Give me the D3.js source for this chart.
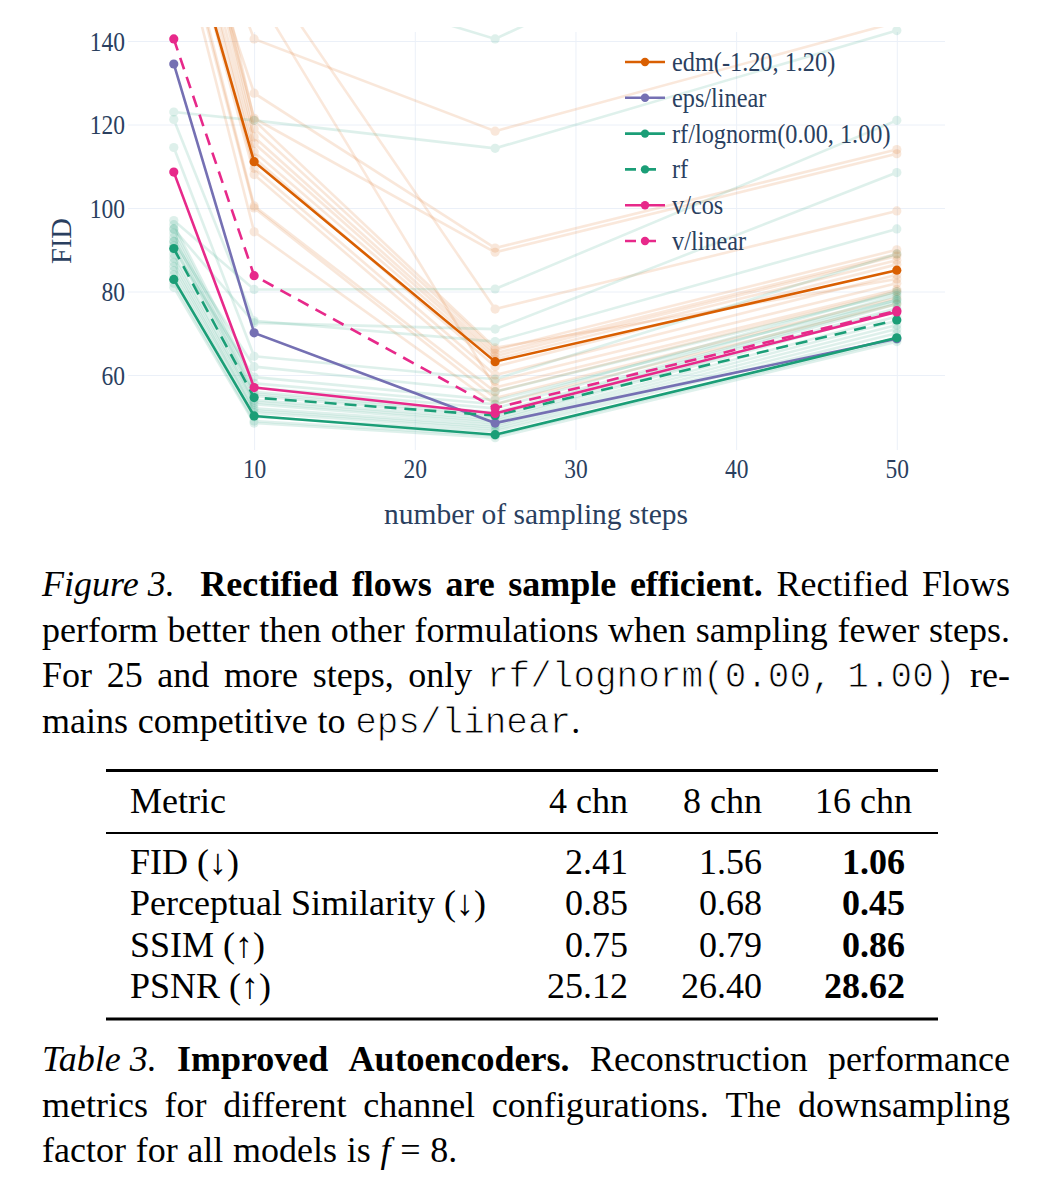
<!DOCTYPE html>
<html>
<head>
<meta charset="utf-8">
<script src="https://cdn.jsdelivr.net/npm/d3@7/dist/d3.min.js"></script>
<style>
  body { margin: 0; background: #fff; }
  svg { display: block; }
</style>
</head>
<body>
<script>
// ---- data ----
var steps = [5, 10, 25, 50];

var edmMain    = [178, 111.1, 63.2, 85.1];
var epsLinear  = [134.5, 70.1, 48.5, 68.7];
var rfLognorm  = [82.9, 50.2, 45.7, 68.9];
var rfPlain    = [90.3, 54.6, 50.3, 73.2];
var vCos       = [108.6, 57.0, 50.8, 75.1];
var vLinear    = [140.5, 83.8, 52.1, 75.4];

// faded runs (other edm settings)
var edmFaded = [
  [190, 140.5, 118.4, 144.5],
  [185, 127.5, 90.4, 114],
  [195, 121.5, 89.4, 113],
  [240, 160, 75.8, 99.3],
  [230, 152, 57, 80.5],
  [200, 119, 66, 90],
  [198, 117, 65.2, 89],
  [192, 115.5, 64.5, 88.5],
  [188, 113.5, 63.8, 87.5],
  [186, 112, 62, 86.5],
  [183, 109.5, 60, 84],
  [180, 108, 58.5, 82],
  [176, 100.5, 56, 80],
  [174, 100, 54.5, 78.5],
  [170, 94.3, 53, 77],
  [205, 121, 66.5, 83]
];

// faded runs (other rf settings)
var rfFaded = [
  [123, 121, 114.3, 142.5],
  [175, 158, 140.5, 185],
  [97, 80.5, 80.6, 121],
  [95, 72.5, 71, 108.5],
  [121.2, 73, 68, 95],
  [114.5, 64.5, 59, 89],
  [96, 58, 53, 80],
  [95, 57, 52, 79],
  [94, 56, 51, 78],
  [93, 55.5, 50.5, 77.5],
  [92, 55, 50, 77],
  [91, 54, 49.5, 76],
  [89, 53.5, 49, 75.5],
  [88, 53, 48.5, 74],
  [87, 52, 48, 73],
  [86, 51.5, 47.5, 72],
  [85, 51, 47, 71],
  [84, 50, 46.5, 70],
  [82, 49, 45.5, 68.5],
  [81, 48.5, 45, 68],
  [90, 59.5, 54, 78],
  [92, 62, 56, 79.5]
];

var xTicks = [10, 20, 30, 40, 50];
var yTicks = [60, 80, 100, 120, 140];

var seriesNames = ["edm(-1.20, 1.20)", "eps/linear", "rf/lognorm(0.00, 1.00)", "rf", "v/cos", "v/linear"];
var seriesValues = [edmMain, epsLinear, rfLognorm, rfPlain, vCos, vLinear];
var seriesColors = ["#d95f02", "#7570b3", "#1b9e77", "#1b9e77", "#e7298a", "#e7298a"];
var seriesDashed = [false, false, false, true, false, true];

var tableHeader = ["Metric", "4 chn", "8 chn", "16 chn"];
var tableMetrics = ["FID (\u2193)", "Perceptual Similarity (\u2193)", "SSIM (\u2191)", "PSNR (\u2191)"];
var chn4 = ["2.41", "0.85", "0.75", "25.12"];
var chn8 = ["1.56", "0.68", "0.79", "26.40"];
var chn16 = ["1.06", "0.45", "0.86", "28.62"];

var figCaption = [
  [["i", "Figure\u00a03. "], ["b", "Rectified flows are sample efficient. "], ["r", "Rectified Flows"]],
  [["r", "perform better then other formulations when sampling fewer steps."]],
  [["r", "For 25 and more steps, only "], ["m", "rf/lognorm(0.00, 1.00) "], ["r", "re-"]],
  [["r", "mains competitive to "], ["m", "eps/linear"], ["r", "."]]
];
var tabCaption = [
  [["i", "Table\u00a03. "], ["b", "Improved Autoencoders. "], ["r", "Reconstruction performance"]],
  [["r", "metrics for different channel configurations. The downsampling"]],
  [["r", "factor for all models is "], ["i", "f"], ["r", " = 8."]]
];

// ---- drawing ----
var WIDTH = 1047, HEIGHT = 1195;
var SERIF = "'Liberation Serif', 'Times New Roman', serif";
var MONO = "'Liberation Mono', 'Courier New', monospace";
var INK = "#2a3f5f";
var STRETCH = 1.15;   // chart text in the picture is a bit taller than wide

var svg = d3.select("body").append("svg")
  .attr("width", WIDTH)
  .attr("height", HEIGHT);

svg.append("rect").attr("width", WIDTH).attr("height", HEIGHT).attr("fill", "#fff");

var pL = 128, pR = 945, pT = 32, pB = 450;

var x = d3.scaleLinear().domain([2.15, 53.0]).range([pL, pR]);
var y = d3.scaleLinear().domain([42.04, 142.16]).range([pB, pT]);

// grid + tick labels
var gx = svg.append("g")
  .attr("transform", "translate(0," + pB + ")")
  .call(d3.axisBottom(x).tickValues(xTicks).tickSize(-(pB - pT)));
var gy = svg.append("g")
  .attr("transform", "translate(" + pL + ",0)")
  .call(d3.axisLeft(y).tickValues(yTicks).tickSize(-(pR - pL)));

[gx, gy].forEach(function(g) {
  g.select(".domain").remove();
  g.selectAll(".tick line").attr("stroke", "#ebf0f8").attr("stroke-width", 1);
  g.selectAll(".tick text")
    .attr("fill", INK)
    .attr("x", 0).attr("y", 0).attr("dy", null)
    .style("font-family", SERIF)
    .style("font-size", "23.5px");
});
gx.selectAll(".tick text").attr("transform", "translate(0,28) scale(1," + STRETCH + ")");
gy.selectAll(".tick text").attr("transform", "translate(-3,9) scale(1," + STRETCH + ")");

svg.append("clipPath").attr("id", "plotclip")
  .append("rect").attr("x", pL).attr("y", pT - 5)
  .attr("width", pR - pL).attr("height", pB - pT + 5);

var line = d3.line()
  .x(function(d, i) { return x(steps[i]); })
  .y(function(d) { return y(d); });

var plot = svg.append("g").attr("clip-path", "url(#plotclip)");

function drawRun(g, vals, color, dashed, opacity) {
  var t = g.append("g").attr("opacity", opacity);
  t.append("path")
    .attr("d", line(vals))
    .attr("fill", "none")
    .attr("stroke", color)
    .attr("stroke-width", 2.6)
    .attr("stroke-dasharray", dashed ? "12,8" : null);
  t.selectAll("circle")
    .data(vals)
    .enter()
    .append("circle")
    .attr("cx", function(d, i) { return x(steps[i]); })
    .attr("cy", function(d) { return y(d); })
    .attr("r", 4.6)
    .attr("fill", color);
}

edmFaded.forEach(function(v) { drawRun(plot, v, "#d95f02", false, 0.14); });
rfFaded.forEach(function(v) { drawRun(plot, v, "#1b9e77", false, 0.14); });

for (var i = 0; i < seriesValues.length; i++) {
  drawRun(plot, seriesValues[i], seriesColors[i], seriesDashed[i], 1);
}

// legend
var legend = svg.append("g");
for (var j = 0; j < seriesNames.length; j++) {
  var ly = 62 + j * 35.8;
  var row = legend.append("g");
  row.append("line")
    .attr("x1", 625).attr("x2", seriesDashed[j] ? 661 : 665)
    .attr("y1", ly).attr("y2", ly)
    .attr("stroke", seriesColors[j]).attr("stroke-width", 2.6)
    .attr("stroke-dasharray", seriesDashed[j] ? "11,9" : null);
  row.append("circle").attr("cx", 645).attr("cy", ly).attr("r", 4.2).attr("fill", seriesColors[j]);
  row.append("text")
    .attr("transform", "translate(672," + (ly + 9) + ") scale(1," + STRETCH + ")")
    .attr("fill", INK)
    .style("font-family", SERIF).style("font-size", "24.3px")
    .text(seriesNames[j]);
}

// axis titles
svg.append("text")
  .attr("x", 536).attr("y", 524)
  .attr("text-anchor", "middle")
  .attr("fill", INK)
  .style("font-family", SERIF).style("font-size", "29.5px")
  .text("number of sampling steps");

svg.append("text")
  .attr("transform", "translate(71,241) rotate(-90)")
  .attr("text-anchor", "middle")
  .attr("fill", INK)
  .style("font-family", SERIF).style("font-size", "28.5px")
  .text("FID");

// ---- captions: justified text lines ----
var FS = 36;

function styleSpan(sp, st) {
  sp.style("font-family", st === "m" ? MONO : SERIF)
    .style("font-style", st === "i" ? "italic" : "normal")
    .style("font-weight", st === "b" ? "bold" : "normal");
  if (st === "m") {
    // typewriter face in the paper is much lighter; thin the glyphs a little
    sp.attr("stroke", "#fff").attr("stroke-width", 0.9);
  }
}

function toWords(segs) {
  var words = [[]];
  segs.forEach(function(s) {
    s[1].split(/( )/).forEach(function(part) {
      if (part === " ") { if (words[words.length - 1].length) words.push([]); }
      else if (part.length) words[words.length - 1].push([s[0], part]);
    });
  });
  if (!words[words.length - 1].length) words.pop();
  return words;
}

function drawParagraph(lines, x0, y0, lineH, width, firstPad) {
  var g = svg.append("g");
  lines.forEach(function(segs, li) {
    var words = toWords(segs);
    var base = y0 + li * lineH;
    var nodes = words.map(function(w) {
      var t = g.append("text").attr("y", base).attr("fill", "#000")
        .style("font-size", FS + "px");
      w.forEach(function(p) { styleSpan(t.append("tspan").text(p[1]), p[0]); });
      return t;
    });
    var widths = nodes.map(function(n) { return n.node().getComputedTextLength(); });
    var pads = words.map(function(w, k) { return (li === 0 && k === 1) ? firstPad : 0; });
    var total = d3.sum(widths) + d3.sum(pads);
    var justify = li < lines.length - 1;
    var gap = justify ? (width - total) / (words.length - 1) : FS * 0.27;
    var cx = x0;
    nodes.forEach(function(n, k) {
      cx += pads[k];
      n.attr("x", cx);
      cx += widths[k] + gap;
    });
  });
}

drawParagraph(figCaption, 42, 596, 45.5, 968, 12);
drawParagraph(tabCaption, 42, 1071, 45.5, 968, 0);

// ---- table ----
var tab = svg.append("g");
tab.append("line").attr("x1", 106).attr("x2", 938).attr("y1", 770.5).attr("y2", 770.5)
  .attr("stroke", "#000").attr("stroke-width", 3);
tab.append("line").attr("x1", 106).attr("x2", 938).attr("y1", 833).attr("y2", 833)
  .attr("stroke", "#000").attr("stroke-width", 2);
tab.append("line").attr("x1", 106).attr("x2", 938).attr("y1", 1019).attr("y2", 1019)
  .attr("stroke", "#000").attr("stroke-width", 3);

var colRight = [628, 762, 912];
var valRight = [628, 762, 905];

function cell(txt, xx, yy, anchor, bold) {
  tab.append("text").attr("x", xx).attr("y", yy)
    .attr("text-anchor", anchor)
    .attr("fill", "#000")
    .style("font-family", SERIF).style("font-size", FS + "px")
    .style("font-weight", bold ? "bold" : "normal")
    .text(txt);
}

cell(tableHeader[0], 130, 813, "start", false);
for (var c = 1; c < tableHeader.length; c++) cell(tableHeader[c], colRight[c - 1], 813, "end", false);

var cols = [chn4, chn8, chn16];
tableMetrics.forEach(function(m, r) {
  var yy = 874 + r * 41.3;
  cell(m, 130, yy, "start", false);
  cols.forEach(function(col, ci) {
    cell(col[r], valRight[ci], yy, "end", ci === 2);
  });
});
</script>
</body>
</html>
